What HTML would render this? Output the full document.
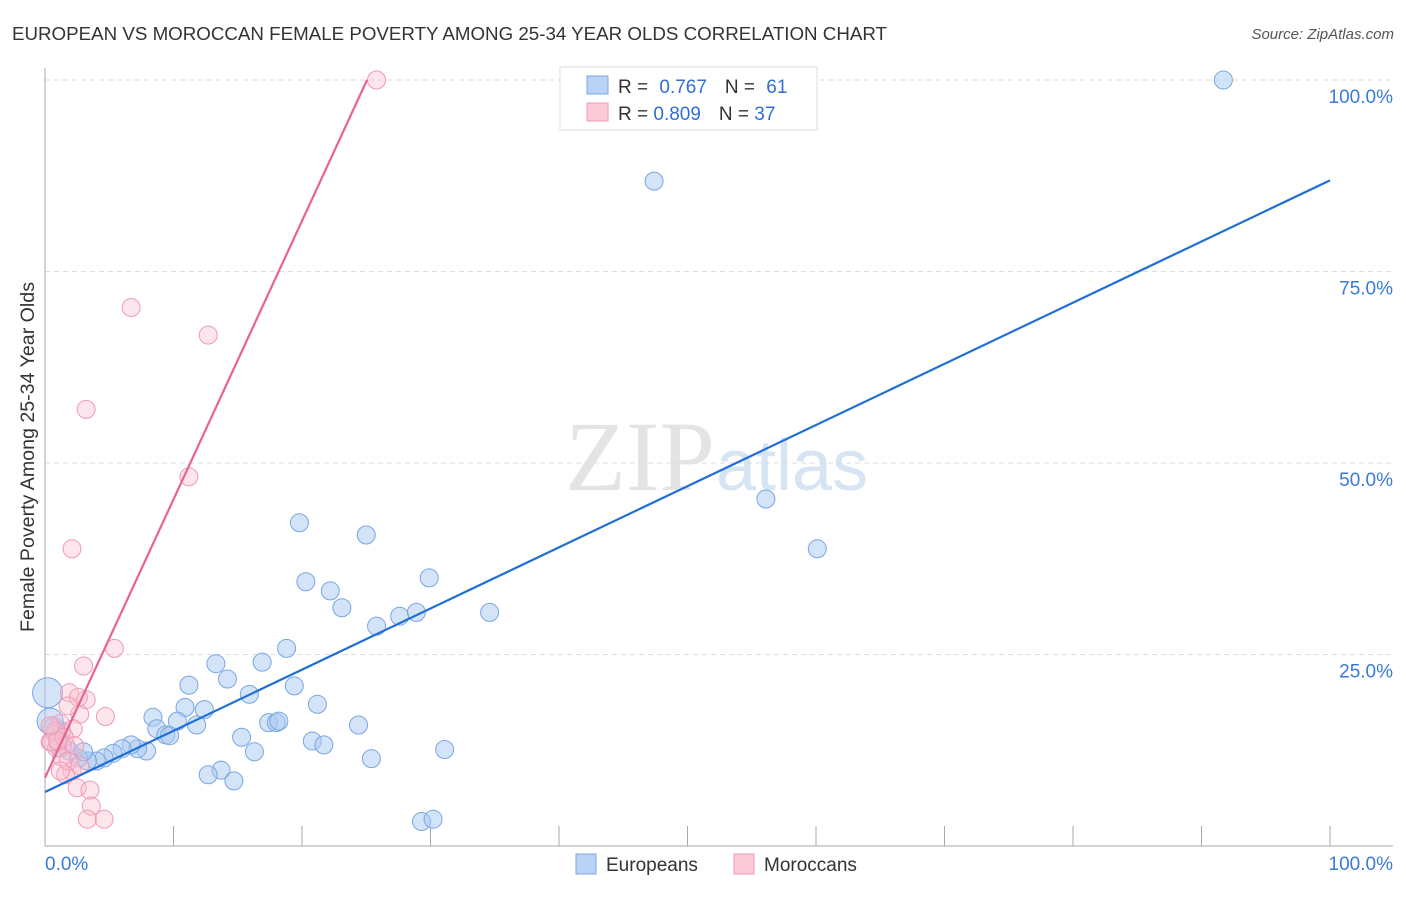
<!DOCTYPE html>
<html><head><meta charset="utf-8"><style>
body{margin:0;background:#fff;font-family:"Liberation Sans",sans-serif}
</style></head><body>
<svg id="chart" width="1406" height="892" xmlns="http://www.w3.org/2000/svg">
<text x="12" y="40" font-size="18" fill="#333" textLength="875" lengthAdjust="spacingAndGlyphs">EUROPEAN VS MOROCCAN FEMALE POVERTY AMONG 25-34 YEAR OLDS CORRELATION CHART</text>
<text x="1394" y="39" font-size="15" fill="#555" font-style="italic" text-anchor="end">Source: ZipAtlas.com</text>
<text x="34" y="457" font-size="19" fill="#333" text-anchor="middle" textLength="350" lengthAdjust="spacingAndGlyphs" transform="rotate(-90 34 457)">Female Poverty Among 25-34 Year Olds</text>
<text x="715" y="490" font-size="100" fill="#e4e4e4" text-anchor="end" font-family="Liberation Serif,serif">ZIP</text>
<text x="716" y="490" font-size="72" fill="#d6e4f4">atlas</text>
<g id="grid"></g><g id="axes"></g><g id="pts"></g><g id="lines"></g>
<g>
<rect x="560" y="67" width="257" height="63" fill="#fff" stroke="#ddd"/>
<rect x="587" y="76" width="21" height="18" fill="#b9d3f5" stroke="#7aa7e6"/>
<rect x="587" y="103" width="21" height="18" fill="#fcc9d8" stroke="#ee9ab3"/>
<text x="618" y="93" font-size="19" fill="#333">R = <tspan fill="#2f6fd6" dx="6">0.767</tspan><tspan dx="18" fill="#333">N = </tspan><tspan fill="#2f6fd6" dx="6">61</tspan></text>
<text x="618" y="120" font-size="19" fill="#333">R = <tspan fill="#2f6fd6">0.809</tspan><tspan dx="18" fill="#333">N = </tspan><tspan fill="#2f6fd6">37</tspan></text>
</g>
<g>
<rect x="576" y="854" width="20" height="20" fill="#b9d3f5" stroke="#7aa7e6"/>
<text x="606" y="871" font-size="19" fill="#333">Europeans</text>
<rect x="734" y="854" width="20" height="20" fill="#fcc9d8" stroke="#ee9ab3"/>
<text x="764" y="871" font-size="19" fill="#333">Moroccans</text>
</g>
</svg>
<script>
const yTicks=[25,50,75,100];
const yTickLabels=["25.0%","50.0%","75.0%","100.0%"];
const xTicks=[0,10,20,30,40,50,60,70,80,90,100];
const euroX=[91.7,47.4,56.1,60.1,19.8,25.0,20.3,22.2,23.1,29.9,25.8,27.6,28.9,34.6,18.8,13.3,16.9,11.2,15.9,19.4,14.2,10.9,12.4,8.4,10.3,21.2,11.8,8.7,9.4,9.7,15.3,17.4,18.0,18.2,24.4,20.8,21.7,16.3,25.4,31.1,13.7,12.7,14.7,29.3,30.2,7.9,7.2,6.7,6.0,5.3,4.6,4.0,3.3,2.6,1.9,1.3,0.7,0.2,0.4,1.2,3.0];
const euroY=[100,86.8,45.3,38.8,42.2,40.6,34.5,33.3,31.1,35.0,28.7,30.0,30.5,30.5,25.8,23.8,24.0,21.0,19.8,20.9,21.8,18.1,17.8,16.8,16.3,18.5,15.8,15.3,14.5,14.4,14.2,16.1,16.1,16.3,15.8,13.7,13.2,12.3,11.4,12.6,9.9,9.3,8.5,3.2,3.5,12.4,12.7,13.2,12.7,12.1,11.5,11.1,11.1,11.5,12.4,15.0,15.3,20.0,16.3,13.1,12.3];
const euroR=[9,9,9,9,9,9,9,9,9,9,9,9,9,9,9,9,9,9,9,9,9,9,9,9,9,9,9,9,9,9,9,9,9,9,9,9,9,9,9,9,9,9,9,9,9,9,9,9,9,9,9,9,9,9,9,9,11,15,13,11,9];
const morX=[25.8,6.7,12.7,3.2,11.2,2.1,5.4,3.0,1.9,3.2,2.6,4.7,2.7,1.8,1.2,2.2,0.8,1.6,0.4,0.9,1.3,2.1,1.6,2.5,3.5,3.6,3.3,4.6,0.8,0.5,1.5,1.0,2.3,1.8,1.2,2.7,0.4];
const morY=[100,70.3,66.7,57.0,48.2,38.8,25.8,23.5,20.0,19.1,19.4,16.9,17.2,18.3,16.0,15.3,14.5,13.2,13.6,12.8,11.6,9.8,9.3,7.6,7.3,5.2,3.5,3.5,15.0,13.6,14.2,13.7,13.1,11.1,9.8,10.5,15.7];
const euroLine=[7.05,86.9];
const morLine=[8.9,25.06];
const X=v=>45+v*12.85, Y=v=>846-v*7.66;
const ns="http://www.w3.org/2000/svg";
function mk(parent,tag,attrs){const e=document.createElementNS(ns,tag);for(const k in attrs)e.setAttribute(k,attrs[k]);document.getElementById(parent).appendChild(e);return e;}
yTicks.forEach((t,i)=>{
 const g=mk('grid','line',{x1:45,x2:1393,y1:Y(t),y2:Y(t),stroke:'#ddd','stroke-dasharray':'5,4'});
 
 
 const l=mk('axes','text',{x:1393,y:Y(t)+23,'font-size':19,fill:'#3a7ad8','text-anchor':'end'});
 l.textContent=yTickLabels[i];
 
 
});
const ay=mk('axes','line',{x1:45,x2:45,y1:68,y2:846,stroke:'#aaa'});


const ax=mk('axes','line',{x1:45,x2:1393,y1:846,y2:846,stroke:'#aaa'});


xTicks.forEach(t=>{const k=mk('axes','line',{x1:X(t),x2:X(t),y1:826,y2:846,stroke:'#aaa'});
 
 });
const x0=mk('axes','text',{x:45,y:870,'font-size':19,fill:'#3a7ad8'});x0.textContent='0.0%';


const x1=mk('axes','text',{x:1393,y:870,'font-size':19,fill:'#3a7ad8','text-anchor':'end'});x1.textContent='100.0%';


euroX.forEach((v,i)=>{const c=mk('pts','circle',{cx:X(v),cy:Y(euroY[i]),r:euroR[i],fill:'rgba(170,202,242,0.5)',stroke:'#78a6e2','stroke-width':1});
 
 });
morX.forEach((v,i)=>{const c=mk('pts','circle',{cx:X(v),cy:Y(morY[i]),r:9,fill:'rgba(250,190,208,0.4)',stroke:'#ee9ab3','stroke-width':1});
 
 });
const bl=mk('lines','line',{x1:X(0),y1:Y(euroLine[0]),x2:X(100),y2:Y(euroLine[1]),stroke:'#1f6fd6','stroke-width':2.2});


const pl=mk('lines','line',{x1:X(0),y1:Y(morLine[0]),x2:X(morLine[1]),y2:Y(100),stroke:'#e8648e','stroke-width':2.2});


</script>
</body></html>
